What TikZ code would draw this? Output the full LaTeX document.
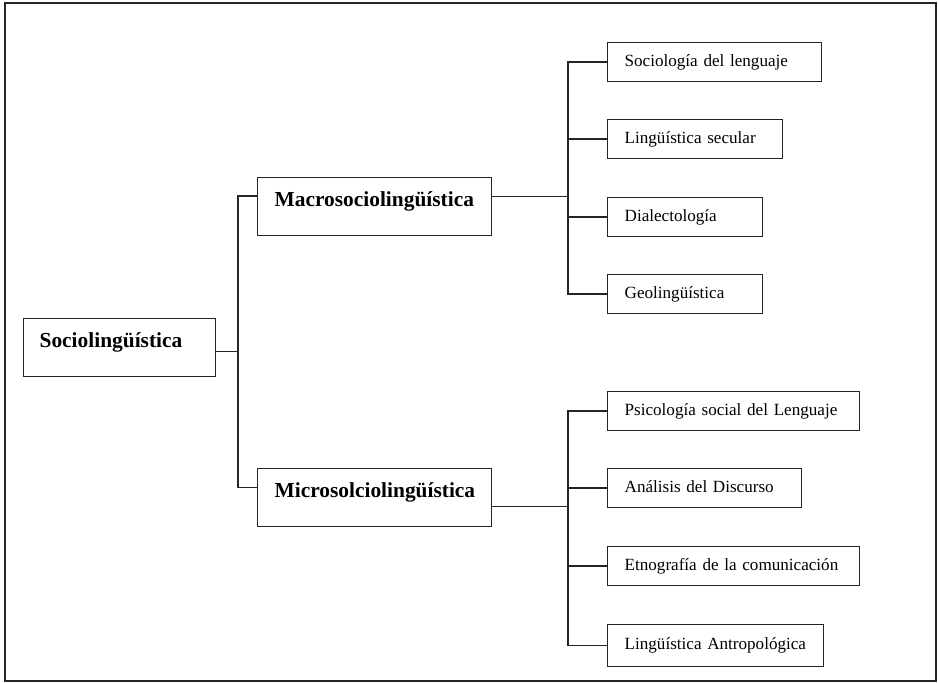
\documentclass[tikz,border=0pt]{standalone}
\usepackage{fontspec}
\setmainfont{Liberation Serif}
\usepackage{tikz}

\begin{document}
\begin{tikzpicture}[x=1pt, y=-1pt, line width=1.3pt, draw=black!85,
    bigbox/.style={draw, anchor=north west, align=left, inner xsep=17pt, inner ysep=0pt,
        text height=28.7pt, text depth=29.3pt, text width=200pt,
        font=\fontsize{21.4}{24}\selectfont\bfseries},
    smallbox/.style={draw, anchor=north west, align=left, inner xsep=17pt, inner ysep=0pt,
        text height=12pt, text depth=3pt, minimum height=38.5pt,
        font=\fontsize{17.1}{20}\selectfont}]
    % Frame
    \useasboundingbox (0,0) rectangle (938,683);
    \draw[line width=1.5pt] (5,3) rectangle (936,681);

    % Root
    \node[bigbox, inner xsep=16pt, text width=160pt] (socio) at (23,318) {Sociolingüística};

    % Branches
    \node[bigbox] (macro) at (257,177) {Macrosociolingüística};
    \node[bigbox] (micro) at (257,468) {Microsolciolingüística};

    % Macro leaves
    \node[smallbox, text width=180pt] (c1) at (607,42) {Sociología del lenguaje};
    \node[smallbox, text width=141pt] (c2) at (607,119) {Lingüística secular};
    \node[smallbox, text width=121pt] (c3) at (607,197) {Dialectología};
    \node[smallbox, text width=121pt] (c4) at (607,274) {Geolingüística};

    % Micro leaves
    \node[smallbox, text width=218pt] (c5) at (607,391) {Psicología social del Lenguaje};
    \node[smallbox, text width=160pt] (c6) at (607,468) {Análisis del Discurso};
    \node[smallbox, text width=218pt] (c7) at (607,546) {Etnografía de la comunicación};
    \node[smallbox, text width=182pt, minimum height=42.5pt] (c8) at (607,623.5) {Lingüística Antropológica};

    % Junctions
    \coordinate (t0) at (238,351.7);
    \coordinate (ma) at (238,196);
    \coordinate (mi) at (238,487.7);
    \coordinate (mr) at (568,196.7);
    \coordinate (nr) at (568,506.7);

    % Lines
    \draw (socio.east |- t0) -- (t0);
    \draw (macro.west |- ma) -- (ma) -- (mi) -- (micro.west |- mi);
    \draw (macro.east |- mr) -- (mr);
    \draw (micro.east |- nr) -- (nr);
    \draw (c1.west) -| (mr);
    \draw (c4.west) -| (mr);
    \draw (c2.west) -- (c2.west -| mr);
    \draw (c3.west) -- (c3.west -| mr);
    \draw (c5.west) -| (nr);
    \draw (c8.west) -| (nr);
    \draw (c6.west) -- (c6.west -| nr);
    \draw (c7.west) -- (c7.west -| nr);
\end{tikzpicture}
\end{document}
